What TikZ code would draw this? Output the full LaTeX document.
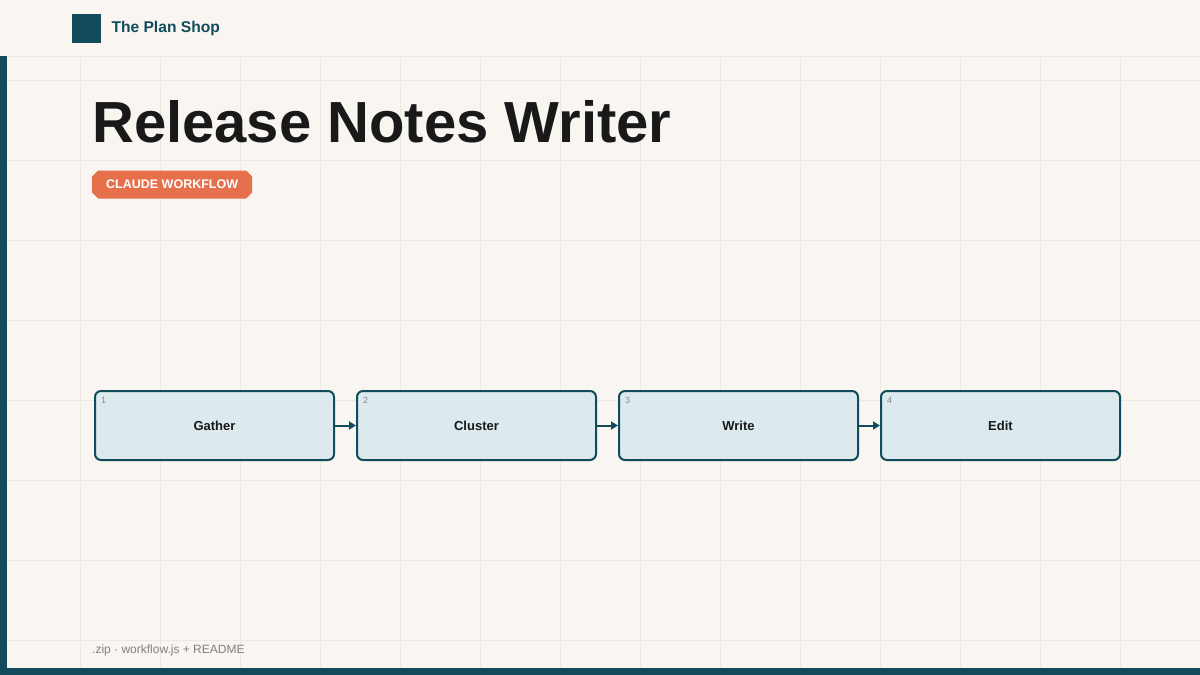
\documentclass[tikz,border=0pt]{standalone}
\usepackage{fontspec}
\setmainfont{Liberation Sans}
\usetikzlibrary{arrows.meta,positioning,shapes.misc}
\definecolor{paper}{HTML}{F9F6F1}
\definecolor{gridc}{HTML}{ECE8E2}
\definecolor{teal}{HTML}{124C5C}
\definecolor{boxfill}{HTML}{DCE9ED}
\definecolor{badge}{HTML}{E5704B}
\begin{document}
\begin{tikzpicture}[x=1pt,y=-1pt,
  stepbox/.style={draw=teal, line width=2pt, fill=boxfill, rounded corners=6pt,
    minimum width=239pt, minimum height=69pt, inner sep=0pt,
    font=\fontsize{13}{15}\selectfont\bfseries, text=black!90},
  stepnum/.style={font=\fontsize{9}{10}\selectfont, text=black!45, anchor=north west, inner sep=0pt},
  link/.style={-{Triangle[length=7pt,width=8pt]}, draw=teal, line width=2pt}]
\useasboundingbox (0,0) rectangle (1200,675);
\fill[paper] (0,0) rectangle (1200,675);
% grid
\foreach \x in {80,160,...,1120} \draw[gridc] (\x,56) -- (\x,668);
\foreach \y in {80,160,...,640} \draw[gridc] (7,\y) -- (1200,\y);
% header
\draw[gridc, line width=1pt] (0,56) -- (1200,56);
\fill[teal] (72,14) rectangle (101,43);
\node[anchor=west, text=teal, font=\fontsize{15.6}{18}\selectfont\bfseries] (shop) at (108,28) {The Plan Shop};
% side and bottom bars
\fill[teal] (0,56) rectangle (7,675);
\fill[teal] (0,668) rectangle (1200,675);
% title
\node[anchor=west, inner sep=0pt, text=black!90, font=\fontsize{58}{66}\selectfont\bfseries] (title) at (92,122) {Release Notes Writer};
\node[anchor=west, fill=badge, text=white, chamfered rectangle, chamfered rectangle xsep=3pt,
  chamfered rectangle ysep=3pt, minimum height=28pt, inner xsep=11pt,
  font=\fontsize{12.5}{14}\selectfont\bfseries] (badge) at (92,184.5) {CLAUDE WORKFLOW};
% steps
\node[stepbox] (gather) at (214.5,425.5) {Gather};
\node[stepbox, right=21pt of gather] (cluster) {Cluster};
\node[stepbox, right=21pt of cluster] (write) {Write};
\node[stepbox, right=21pt of write] (edit) {Edit};
\foreach \n/\k in {gather/1,cluster/2,write/3,edit/4}
  \node[stepnum] at ([shift={(7pt,-7pt)}]\n.north west) {\k};
\draw[link] (gather) -- (cluster);
\draw[link] (cluster) -- (write);
\draw[link] (write) -- (edit);
% footer
\node[anchor=west, inner sep=0pt, text=black!50, font=\fontsize{12}{14}\selectfont] (foot) at (92,650) {.zip · workflow.js + README};
\end{tikzpicture}
\end{document}
